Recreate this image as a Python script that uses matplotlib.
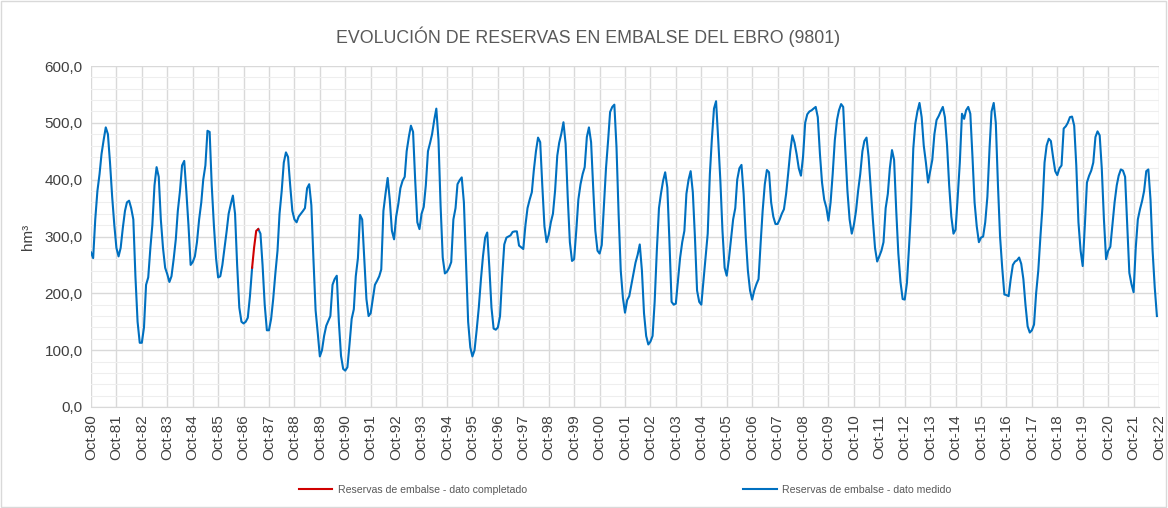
import numpy as np
import pandas as pd
import matplotlib
matplotlib.use("Agg")
import matplotlib.pyplot as plt
import matplotlib.dates as mdates
from matplotlib.ticker import FuncFormatter, MultipleLocator
from matplotlib.lines import Line2D
from matplotlib.patches import Rectangle

plt.rcParams["font.family"] = ["Liberation Sans", "DejaVu Sans"]

# Monthly reservoir volume (hm3), hydrological years starting in October
vol_1980s = [  # Oct-80 .. Sep-90
    272, 262, 330, 380, 410, 445, 470, 492, 480, 430, 370, 320,
    280, 265, 280, 315, 345, 360, 363, 350, 330, 230, 150, 113,
    113, 140, 215, 228, 280, 320, 390, 422, 405, 330, 280, 245,
    234, 220, 230, 260, 295, 345, 380, 425, 433, 380, 320, 250,
    255, 265, 290, 330, 360, 400, 425, 486, 484, 390, 320, 262,
    228, 230, 250, 280, 310, 340, 357, 372, 340, 250, 175, 150,
    147, 150, 157, 195, 245, None, None, 313, 305, 250, 180, 135,
    135, 155, 190, 235, 275, 340, 380, 430, 448, 440, 390, 345,
    330, 325, 335, 340, 345, 350, 385, 392, 355, 260, 170, 130,
    89, 100, 125, 143, 152, 160, 215, 225, 231, 150, 90, 67,
]
vol_1990s = [  # Oct-90 .. Sep-00
    64, 70, 110, 155, 172, 230, 262, 338, 330, 260, 190, 160,
    165, 190, 215, 222, 230, 242, 345, 375, 403, 365, 310, 295,
    335, 357, 385, 398, 405, 450, 475, 495, 484, 400, 325, 313,
    340, 352, 390, 450, 465, 480, 505, 525, 470, 355, 263, 235,
    238, 245, 255, 330, 350, 392, 399, 404, 360, 255, 150, 105,
    89, 100, 135, 175, 225, 265, 298, 307, 245, 175, 138, 136,
    140, 160, 228, 286, 298, 300, 302, 308, 309, 309, 284, 281,
    278, 320, 350, 365, 378, 416, 450, 474, 466, 390, 318, 290,
    303, 325, 340, 381, 442, 465, 481, 501, 463, 370, 290, 257,
    260, 310, 365, 392, 410, 422, 475, 492, 466, 386, 310, 275,
]
vol_2000s = [  # Oct-00 .. Sep-10
    270, 285, 350, 420, 470, 519, 528, 532, 457, 340, 240, 192,
    166, 188, 195, 215, 234, 254, 268, 286, 240, 165, 125, 110,
    115, 125, 185, 275, 350, 375, 398, 413, 386, 292, 185, 180,
    182, 222, 262, 290, 310, 375, 400, 415, 378, 300, 205, 185,
    180, 222, 263, 305, 410, 470, 525, 538, 470, 400, 310, 245,
    231, 260, 295, 330, 350, 400, 420, 426, 375, 300, 240, 205,
    189, 205, 216, 225, 290, 345, 392, 417, 413, 360, 335, 322,
    322, 330, 340, 348, 375, 410, 450, 478, 465, 445, 420, 407,
    440, 500, 515, 520, 522, 525, 528, 510, 445, 395, 365, 351,
    328, 360, 410, 470, 505, 522, 533, 528, 450, 380, 330, 305,
]
vol_2010s = [  # Oct-10 .. Sep-20
    320, 345, 380, 410, 450, 468, 474, 440, 385, 330, 280, 256,
    265, 275, 290, 350, 375, 420, 452, 435, 345, 270, 220, 190,
    189, 218, 280, 350, 455, 498, 520, 535, 510, 460, 430, 395,
    415, 435, 480, 505, 512, 520, 528, 510, 460, 390, 335, 305,
    312, 370, 430, 516, 507, 522, 528, 516, 440, 360, 318, 290,
    298, 300, 325, 370, 455, 520, 535, 500, 390, 300, 245, 198,
    197, 195, 225, 250, 256, 258, 263, 252, 225, 180, 142, 131,
    135, 145, 200, 240, 300, 350, 430, 460, 472, 468, 440, 415,
    408, 420, 425, 490, 494, 500, 510, 511, 495, 425, 325, 275,
    248, 320, 395, 407, 416, 430, 475, 485, 478, 420, 330, 260,
]
vol_2020s = [  # Oct-20 .. Sep-22
    275, 282, 320, 360, 390, 407, 418, 416, 405, 320, 236, 216,
    202, 280, 330, 348, 363, 380, 415, 418, 365, 275, 210, 160,
]

# Months filled in by completion (Feb-87 .. May-87)
completed_start = "1987-02-01"
completed_vals = [245, 280, 310, 313]

title = "EVOLUCIÓN DE RESERVAS EN EMBALSE DEL EBRO (9801)"
label_completed = "Reservas de embalse - dato completado"
label_measured = "Reservas de embalse - dato medido"

measured = vol_1980s + vol_1990s + vol_2000s + vol_2010s + vol_2020s
dates = pd.date_range("1980-10-01", periods=len(measured), freq="MS")
measured = pd.Series([np.nan if v is None else v for v in measured], index=dates, dtype=float)
completed = pd.Series(completed_vals,
                      index=pd.date_range(completed_start, periods=len(completed_vals), freq="MS"),
                      dtype=float)

BLUE = "#0070C0"
RED = "#D00000"
TXT = "#595959"
TICK = "#404040"

fig = plt.figure(figsize=(11.68, 5.08), dpi=100)
ax = fig.add_axes([91 / 1168, 1 - 407 / 508, (1159 - 91) / 1168, (407 - 66) / 508])

ax.plot(measured.index, measured.values, color=BLUE, lw=1.5, solid_joinstyle="round", zorder=3)
ax.plot(completed.index, completed.values, color=RED, lw=1.5, solid_joinstyle="round", zorder=4)

ax.set_ylim(0, 600)
ax.set_xlim(pd.Timestamp("1980-10-01"), pd.Timestamp("2022-10-01"))
ax.yaxis.set_major_locator(MultipleLocator(100))
ax.yaxis.set_minor_locator(MultipleLocator(20))
ax.yaxis.set_major_formatter(FuncFormatter(lambda v, p: f"{v:.1f}".replace(".", ",")))
ax.xaxis.set_major_locator(mdates.MonthLocator(bymonth=10, bymonthday=1))
ax.xaxis.set_major_formatter(mdates.DateFormatter("%b-%y"))

ax.grid(which="major", axis="both", color="#d9d9d9", lw=1.0, zorder=0)
ax.grid(which="minor", axis="y", color="#eeeeee", lw=0.8, zorder=0)
for s in ["top", "right", "left"]:
    ax.spines[s].set_visible(False)
ax.spines["bottom"].set_color("#d9d9d9")
ax.tick_params(axis="y", which="both", length=0, labelsize=11, labelcolor=TICK, pad=6)
ax.tick_params(axis="x", which="both", length=0, labelsize=11, labelcolor=TICK, pad=5)
plt.setp(ax.get_xticklabels(), rotation=90)

ax.set_ylabel("hm³", fontsize=11, color=TICK, labelpad=7)
fig.text(588 / 1168, 1 - 37 / 508, title, ha="center", va="center", fontsize=12.8, color=TXT)

handles = [Line2D([], [], color=RED, lw=1.5), Line2D([], [], color=BLUE, lw=1.5)]
fig.legend(handles, [label_completed, label_measured], ncol=2, loc="center",
           bbox_to_anchor=(625 / 1168, 1 - 490 / 508), frameon=False,
           fontsize=7.6, labelcolor=TXT, handlelength=3.2, handletextpad=0.5,
           columnspacing=20.5)

fig.add_artist(Rectangle((0.001, 0.002), 0.997, 0.996, transform=fig.transFigure,
                         fill=False, edgecolor="#d9d9d9", lw=1.0))

fig.savefig("out.png", dpi=100)
